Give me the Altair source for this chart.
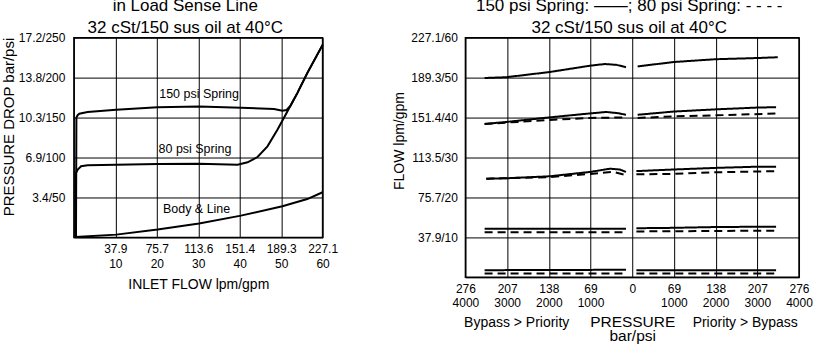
import altair as alt
import pandas as pd

FONT = "Liberation Sans"

# ---------------- Left chart: pressure drop vs inlet flow ----------------
s150_gpm = [0.5, 0.6, 0.9, 1.3, 3.3, 10.2, 20.2, 30.2, 40.3, 48.3, 50.3, 51.3, 52.2, 53.9, 56.3, 60.0]
s150_psi = [0, 150, 153, 154.8, 156.9, 159.8, 163, 164, 162.3, 160.6, 158.5, 159.5, 164.4, 180.6, 205.6, 241]
s80_gpm = [0.5, 0.5, 0.92, 1.73, 3.3, 10.2, 20.2, 30.2, 39.5, 41.9, 44.3, 46.7, 49.1, 51.5, 53.9, 56.3, 60.0]
s80_psi = [0, 80.6, 84.8, 89, 90.2, 91, 91.9, 92.3, 91, 94, 100.6, 114, 134.8, 157.7, 180.6, 205.6, 241]
body_gpm = [0.3, 10.2, 20.2, 30.2, 40.3, 50.3, 56.3, 60.0]
body_psi = [0.5, 3.5, 9.8, 17.3, 27.3, 39, 48, 56.5]

left_series = {"150 psi": (s150_gpm, s150_psi), "80 psi": (s80_gpm, s80_psi), "Body": (body_gpm, body_psi)}

left_ann_text = ["150 psi Spring", "80 psi Spring", "Body & Line"]
left_ann_gpm = [30.2, 29.2, 29.6]
left_ann_psi = [179, 110.6, 35.6]

left_x_vals = [0, 10, 20, 30, 40, 50, 60]
left_x_lpm = ["", "37.9", "75.7", "113.6", "151.4", "189.3", "227.1"]
left_x_gpm = ["", "10", "20", "30", "40", "50", "60"]
left_y_vals = [0, 50, 100, 150, 200, 250]
left_y_lab = ["", "3.4/50", "6.9/100", "10.3/150", "13.8/200", "17.2/250"]

# ---------------- Right chart: flow vs pressure ----------------
# each segment: (spring, p list [psi, negative = Bypass > Priority], q list [gpm])
seg = {
    "A150L": ("150", [-3540, -3020, -1980, -1000, -660, -380, -150], [49.9, 50.1, 51.4, 53.0, 53.4, 53.2, 52.6]),
    "A150R": ("150", [130, 990, 1990, 2990, 3490], [52.8, 53.9, 54.6, 54.9, 55.1]),
    "B150L": ("150", [-3540, -3020, -1980, -1000, -620, -340, -150], [38.4, 38.9, 40.05, 41.05, 41.4, 41.1, 40.7]),
    "B150R": ("150", [130, 990, 1990, 2990, 3450], [40.7, 41.5, 42.05, 42.5, 42.6]),
    "B80L": ("80", [-3540, -1980, -1000, -150], [38.4, 39.4, 39.9, 40.05]),
    "B80R": ("80", [130, 990, 1990, 3450], [39.9, 40.3, 40.55, 41.0]),
    "C150L": ("150", [-3500, -3020, -1980, -1000, -540, -300, -150], [24.7, 24.8, 25.3, 26.4, 27.2, 27.0, 26.4]),
    "C150R": ("150", [100, 990, 1990, 2990, 3450], [26.6, 27.0, 27.4, 27.7, 27.7]),
    "C80L": ("80", [-3500, -1980, -1000, -460, -150], [24.7, 25.1, 25.9, 26.4, 25.6]),
    "C80R": ("80", [100, 990, 1990, 3450], [25.8, 25.9, 26.3, 26.6]),
    "D150L": ("150", [-3540, -150], [12.2, 12.2]),
    "D150R": ("150", [100, 990, 1990, 3450], [12.3, 12.4, 12.6, 12.7]),
    "D80L": ("80", [-3540, -150], [11.3, 11.3]),
    "D80R": ("80", [100, 3450], [11.5, 11.7]),
    "E150L": ("150", [-3540, -150], [1.8, 1.9]),
    "E150R": ("150", [100, 3450], [1.8, 1.8]),
    "E80L": ("80", [-3540, -150], [1.0, 1.0]),
    "E80R": ("80", [100, 3450], [1.0, 1.0]),
}

right_x_vals = [-4000, -3000, -2000, -1000, 0, 1000, 2000, 3000, 4000]
right_x_bar = ["276", "207", "138", "69", "0", "69", "138", "207", "276"]
right_x_psi = ["4000", "3000", "2000", "1000", "", "1000", "2000", "3000", "4000"]
right_y_vals = [0, 10, 20, 30, 40, 50, 60]
right_y_lab = ["", "37.9/10", "75.7/20", "113.5/30", "151.4/40", "189.3/50", "227.1/60"]

side_text = ["Bypass > Priority", "Priority > Bypass"]
side_p = [-2770, 2710]


def expr_from(values, labels_a, labels_b=None):
    parts = []
    for i, v in enumerate(values):
        if labels_b is None or labels_b[i] == "":
            lab = "'" + labels_a[i] + "'"
        else:
            lab = "['" + labels_a[i] + "','" + labels_b[i] + "']"
        parts.append("datum.value == " + str(v) + " ? " + lab + " : ")
    return "".join(parts) + "''"


# ---- build left chart
rows = []
for name, (xs, ys) in left_series.items():
    for i, (a, b) in enumerate(zip(xs, ys)):
        rows.append({"series": name, "gpm": a, "psi": b, "idx": i})
left_df = pd.DataFrame(rows)
left_ann = pd.DataFrame({"label": left_ann_text, "gpm": left_ann_gpm, "psi": left_ann_psi})

lx = alt.X("gpm:Q", scale=alt.Scale(domain=[0, 60], nice=False, zero=False),
           axis=alt.Axis(values=left_x_vals, labelExpr=expr_from(left_x_vals, left_x_lpm, left_x_gpm),
                         title="INLET FLOW lpm/gpm", labelFlush=False, labelOverlap=False,
                         labelLineHeight=15, labelPadding=6.5, titlePadding=8))
ly = alt.Y("psi:Q", scale=alt.Scale(domain=[0, 250], nice=False, zero=False),
           axis=alt.Axis(values=left_y_vals, labelExpr=expr_from(left_y_vals, left_y_lab),
                         title="PRESSURE DROP bar/psi", labelPadding=9, titlePadding=2,
                         titleFontSize=15, titleY=89, labelFlush=False, labelOverlap=False))

left_lines = alt.Chart(left_df).mark_line(color="black", strokeWidth=2).encode(
    x=lx, y=ly, detail="series:N", order="idx:Q")
left_text = alt.Chart(left_ann).mark_text(font=FONT, fontSize=12.5, color="black").encode(
    x=lx, y=ly, text="label:N")
left = alt.layer(left_lines, left_text).properties(
    width=249, height=200,
    title=alt.TitleParams(["in Load Sense Line", "32 cSt/150 sus oil at 40\u00b0C"],
                          anchor="middle", frame="group", dx=-13, offset=-5))

# ---- build right chart
rows = []
for name, (spring, ps, qs) in seg.items():
    for i, (a, b) in enumerate(zip(ps, qs)):
        rows.append({"seg": name, "spring": spring, "p": a, "q": b, "idx": i})
right_df = pd.DataFrame(rows)
side_df = pd.DataFrame({"label": side_text, "p": side_p})

rx = alt.X("p:Q", scale=alt.Scale(domain=[-4000, 4000], nice=False, zero=False),
           axis=alt.Axis(values=right_x_vals, labelExpr=expr_from(right_x_vals, right_x_bar, right_x_psi),
                         title=["PRESSURE", "bar/psi"], labelFlush=False, labelOverlap=False,
                         titleFontSize=15.5, labelLineHeight=14, labelPadding=6.5, titlePadding=6,
                         titleLineHeight=14))
ry = alt.Y("q:Q", scale=alt.Scale(domain=[0, 60], nice=False, zero=False),
           axis=alt.Axis(values=right_y_vals, labelExpr=expr_from(right_y_vals, right_y_lab),
                         title="FLOW lpm/gpm", labelPadding=8, titlePadding=4, titleY=103,
                         labelFlush=False, labelOverlap=False))

right_lines = alt.Chart(right_df).mark_line(color="black", strokeWidth=2).encode(
    x=rx, y=ry,
    strokeDash=alt.StrokeDash("spring:N", scale=alt.Scale(domain=["150", "80"], range=[[1, 0], [8, 5]]), legend=None),
    detail="seg:N", order="idx:Q")
right_side = alt.Chart(side_df).mark_text(font=FONT, fontSize=14, color="black").encode(
    x=rx, y=alt.value(285.5), text="label:N")
right = alt.layer(right_lines, right_side).properties(
    width=334, height=240,
    title=alt.TitleParams(["150 psi Spring: \u2014\u2014; 80 psi Spring: - - - -", "32 cSt/150 sus oil at 40\u00b0C"],
                          anchor="middle", frame="group", dx=-3, offset=-5))

chart = alt.hconcat(left, right, spacing=143, bounds="flush").properties(
    padding={"left": 0, "top": -4.5, "right": 0, "bottom": 0}
).configure_view(stroke="black", strokeWidth=1.5).configure_axis(
    grid=True, gridColor="black", gridOpacity=1, gridWidth=1, domain=False, ticks=False,
    labelFont=FONT, labelFontSize=12, labelColor="black", labelOverlap=False,
    titleFont=FONT, titleFontSize=14, titleFontWeight="normal", titleColor="black"
).configure_title(font=FONT, fontSize=17, fontWeight="normal", color="black", lineHeight=22)

chart.save("out.html", embed_options={"renderer": "svg", "actions": False})
